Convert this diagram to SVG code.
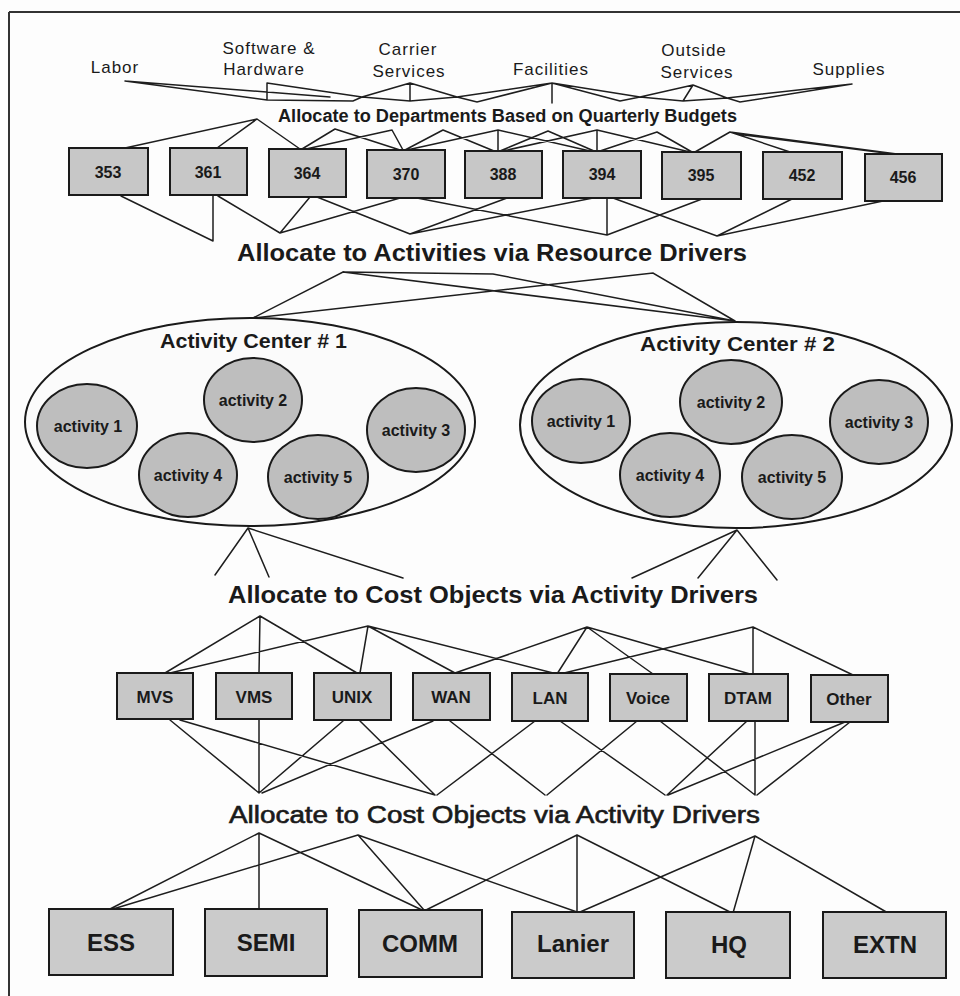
<svg xmlns="http://www.w3.org/2000/svg" width="960" height="996" viewBox="0 0 960 996">
<style>
.ln{stroke:#1e1e1e;stroke-width:1.5;fill:none;stroke-linecap:round}
.frame{stroke:#333;stroke-width:2;fill:none}
.box{fill:#c7c7c7;stroke:#1a1a1a;stroke-width:2}
.big{fill:#cbcbcb;stroke:#1a1a1a;stroke-width:2}
.act{fill:#bebebe;stroke:#1a1a1a;stroke-width:2}
.ctr{fill:#fbfbfb;stroke:#1a1a1a;stroke-width:2}
text{font-family:"Liberation Sans",Arial,sans-serif;fill:#1a1a1a}
.res{font-size:17px;letter-spacing:1px;text-anchor:middle}
.num{font-size:16px;font-weight:bold;text-anchor:middle}
.obj{font-size:17px;font-weight:bold;text-anchor:middle}
.bot{font-size:24px;font-weight:bold;text-anchor:middle}
.a{font-size:16px;font-weight:bold;text-anchor:middle}
.hd{font-weight:bold}
.md{stroke:#1a1a1a;stroke-width:0.6}
</style>
<rect width="960" height="996" fill="#fdfdfd"/>
<g id="frame"><path class="frame" d="M9,12 H960 M9,12 V996"/></g>

<g id="resources">
<text class="res" x="115" y="73">Labor</text>
<text class="res" x="269" y="54">Software &amp;</text>
<text class="res" x="264" y="75">Hardware</text>
<text class="res" x="408" y="55">Carrier</text>
<text class="res" x="409" y="77">Services</text>
<text class="res" x="551" y="75">Facilities</text>
<text class="res" x="694" y="56">Outside</text>
<text class="res" x="697" y="78">Services</text>
<text class="res" x="849" y="75">Supplies</text>
</g>

<g id="labels">
<text class="hd" x="278" y="122" font-size="18" textLength="459" lengthAdjust="spacingAndGlyphs">Allocate to Departments Based on Quarterly Budgets</text>
<text class="hd" x="237" y="261" font-size="23" textLength="510" lengthAdjust="spacingAndGlyphs">Allocate to Activities via Resource Drivers</text>
<text class="hd" x="228" y="603" font-size="23" textLength="530" lengthAdjust="spacingAndGlyphs">Allocate to Cost Objects via Activity Drivers</text>
<text class="md" x="229" y="823" font-size="23" textLength="531" lengthAdjust="spacingAndGlyphs">Allocate to Cost Objects via Activity Drivers</text>
</g>

<g id="connectors">
<path class="ln" d="M125,81 L267,100 M125,81 L330,97 M267,83 L267,100 M267,83 L362,97 M267,100 L353,101 L362,97
M410,83 L362,97 M410,83 L410,101 M410,83 L457,97 M362,97 L410,101 L457,97
M457,97 L477,102 L552,83 M457,97 L552,83
M552,83 L552,103 M552,83 L620,101 M552,83 L640,97 M620,101 L640,97
M640,97 L693,85 M693,85 L683,101 M693,85 L727,98 M640,97 L683,101 L727,98
M727,98 L740,102 L852,84 M727,98 L852,84"/>
<path class="ln" d="M257,119 L125,148 M257,119 L217,148 M257,119 L300,149
M335,129 L302,149 M335,129 L400,150
M392,130 L306,149 M392,130 L403,150
M443,130 L405,150 M443,130 L494,151
M498,130 L498,151 M498,130 L407,150 M498,130 L590,151
M548,131 L500,151 M548,131 L594,151
M597,130 L597,151 M597,130 L503,151 M597,130 L690,152
M657,132 L600,151 M657,132 L692,152
M730,132 L695,152 M730,132 L790,152 M730,132 L897,154 M736,134 L893,154"/>
<path class="ln" d="M121,196 L213,241 M213,196 L213,241 M218,196 L280,233 M310,197 L280,233 M317,197 L410,234
M400,198 L280,233 M417,198 L607,235 M507,198 L410,234 M593,198 L410,234
M607,198 L607,235 M613,198 L717,236 M702,199 L607,235 M792,199 L717,236 M883,201 L717,236"/>
<path class="ln" d="M253,318 L343,272 L493,274 L735,321 M253,318 L653,273 L735,321 M343,272 L735,321"/>
<path class="ln" d="M248,528 L215,575 M248,528 L269,577 M248,528 L403,578
M737,530 L632,578 M737,530 L698,578 M737,530 L777,580"/>
<path class="ln" d="M260,616 L165,673 M260,616 L259,673 M260,616 L357,673
M368,626 L170,673 M368,626 L360,673 M368,626 L455,673 M368,626 L557,674
M587,627 L455,673 M587,627 L557,674 M587,627 L653,674 M587,627 L750,674
M753,627 L753,674 M753,627 L853,675 M753,627 L560,674"/>
<path class="ln" d="M170,720 L259,793 M259,720 L259,793 M343,721 L259,793 M433,721 L262,793
M180,720 L435,795 M360,721 L435,795 M535,721 L437,795
M450,721 L545,795 M637,721 L547,795
M560,721 L665,795 M747,721 L667,795 M845,722 L668,795
M660,721 L755,795 M755,721 L755,795 M850,722 L757,795"/>
<path class="ln" d="M259,833 L110,909 M259,833 L259,909 M259,833 L422,910
M358,835 L113,909 M358,835 L424,910 M358,835 L577,912
M577,835 L426,910 M577,835 L577,912 M577,835 L732,913
M755,836 L580,912 M755,836 L733,913 M755,836 L888,913"/>
</g>

<g id="dept-353"><rect class="box" x="69" y="148" width="79" height="47"/><text class="num" x="108" y="178">353</text></g>
<g id="dept-361"><rect class="box" x="170" y="148" width="77" height="47"/><text class="num" x="208" y="178">361</text></g>
<g id="dept-364"><rect class="box" x="269" y="149" width="77" height="48"/><text class="num" x="307" y="179">364</text></g>
<g id="dept-370"><rect class="box" x="367" y="150" width="78" height="48"/><text class="num" x="406" y="180">370</text></g>
<g id="dept-388"><rect class="box" x="465" y="151" width="77" height="47"/><text class="num" x="503" y="180">388</text></g>
<g id="dept-394"><rect class="box" x="563" y="151" width="78" height="47"/><text class="num" x="602" y="180">394</text></g>
<g id="dept-395"><rect class="box" x="662" y="152" width="79" height="47"/><text class="num" x="701" y="181">395</text></g>
<g id="dept-452"><rect class="box" x="763" y="152" width="79" height="47"/><text class="num" x="802" y="181">452</text></g>
<g id="dept-456"><rect class="box" x="865" y="154" width="77" height="47"/><text class="num" x="903" y="183">456</text></g>

<g id="center-1">
<ellipse class="ctr" cx="250" cy="422" rx="225" ry="104"/>
<text class="hd" x="160" y="348" font-size="20" textLength="187" lengthAdjust="spacingAndGlyphs">Activity Center # 1</text>
</g>
<g id="c1-activity-1"><ellipse class="act" cx="87" cy="426" rx="50" ry="42"/><text class="a" x="88" y="432">activity 1</text></g>
<g id="c1-activity-2"><ellipse class="act" cx="253" cy="400" rx="49" ry="42"/><text class="a" x="253" y="406">activity 2</text></g>
<g id="c1-activity-3"><ellipse class="act" cx="416" cy="430" rx="49" ry="42"/><text class="a" x="416" y="436">activity 3</text></g>
<g id="c1-activity-4"><ellipse class="act" cx="188" cy="475" rx="49" ry="42"/><text class="a" x="188" y="481">activity 4</text></g>
<g id="c1-activity-5"><ellipse class="act" cx="318" cy="477" rx="50" ry="42"/><text class="a" x="318" y="483">activity 5</text></g>

<g id="center-2">
<ellipse class="ctr" cx="736" cy="425" rx="216" ry="103"/>
<text class="hd" x="640" y="351" font-size="20" textLength="195" lengthAdjust="spacingAndGlyphs">Activity Center # 2</text>
</g>
<g id="c2-activity-1"><ellipse class="act" cx="581" cy="421" rx="49" ry="42"/><text class="a" x="581" y="427">activity 1</text></g>
<g id="c2-activity-2"><ellipse class="act" cx="731" cy="402" rx="51" ry="42"/><text class="a" x="731" y="408">activity 2</text></g>
<g id="c2-activity-3"><ellipse class="act" cx="879" cy="422" rx="49" ry="42"/><text class="a" x="879" y="428">activity 3</text></g>
<g id="c2-activity-4"><ellipse class="act" cx="670" cy="475" rx="50" ry="42"/><text class="a" x="670" y="481">activity 4</text></g>
<g id="c2-activity-5"><ellipse class="act" cx="792" cy="477" rx="50" ry="42"/><text class="a" x="792" y="483">activity 5</text></g>

<g id="obj-mvs"><rect class="box" x="117" y="673" width="76" height="46"/><text class="obj" x="155" y="703">MVS</text></g>
<g id="obj-vms"><rect class="box" x="216" y="673" width="76" height="46"/><text class="obj" x="254" y="703">VMS</text></g>
<g id="obj-unix"><rect class="box" x="314" y="673" width="77" height="47"/><text class="obj" x="352" y="703">UNIX</text></g>
<g id="obj-wan"><rect class="box" x="413" y="673" width="77" height="47"/><text class="obj" x="451" y="703">WAN</text></g>
<g id="obj-lan"><rect class="box" x="512" y="673" width="76" height="48"/><text class="obj" x="550" y="704">LAN</text></g>
<g id="obj-voice"><rect class="box" x="610" y="674" width="77" height="47"/><text class="obj" x="648" y="704">Voice</text></g>
<g id="obj-dtam"><rect class="box" x="709" y="674" width="79" height="47"/><text class="obj" x="748" y="704">DTAM</text></g>
<g id="obj-other"><rect class="box" x="811" y="675" width="77" height="47"/><text class="obj" x="849" y="705">Other</text></g>

<g id="unit-ess"><rect class="big" x="49" y="909" width="124" height="66"/><text class="bot" x="111" y="951">ESS</text></g>
<g id="unit-semi"><rect class="big" x="205" y="909" width="122" height="67"/><text class="bot" x="266" y="951">SEMI</text></g>
<g id="unit-comm"><rect class="big" x="359" y="910" width="123" height="67"/><text class="bot" x="420" y="952">COMM</text></g>
<g id="unit-lanier"><rect class="big" x="512" y="912" width="122" height="66"/><text class="bot" x="573" y="952">Lanier</text></g>
<g id="unit-hq"><rect class="big" x="666" y="912" width="124" height="66"/><text class="bot" x="729" y="953">HQ</text></g>
<g id="unit-extn"><rect class="big" x="823" y="912" width="123" height="66"/><text class="bot" x="885" y="953">EXTN</text></g>
</svg>
